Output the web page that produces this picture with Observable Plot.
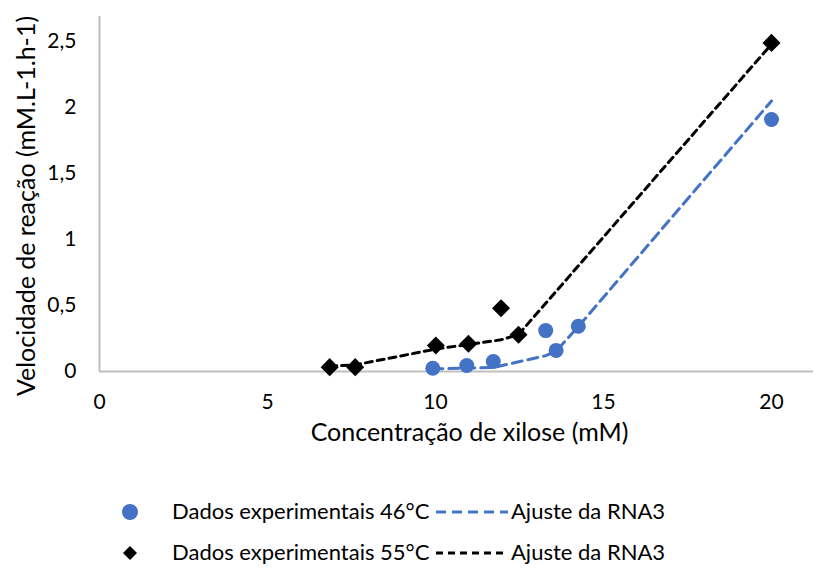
<!DOCTYPE html>
<html>
<head>
<meta charset="utf-8">
<script src="https://cdn.jsdelivr.net/npm/d3@7"></script>
<script src="https://cdn.jsdelivr.net/npm/@observablehq/plot@0.6"></script>
<style>
  body { margin: 0; background: #fff; font-family: Lato, "Open Sans", sans-serif; }
  #wrap { position: relative; width: 829px; height: 570px; }
  .leg { position: absolute; font-size: 22px; color: #000; white-space: nowrap; line-height: 1; }
</style>
</head>
<body>
<div id="wrap"></div>
<script>
// 46 °C experimental data
const x46 = [9.92, 10.93, 11.72, 13.28, 13.59, 14.25, 20.0];
const y46 = [0.025, 0.045, 0.076, 0.31, 0.16, 0.343, 1.91];
// 46 °C ANN fit
const fx46 = [9.92, 10.93, 11.72, 13.28, 13.59, 14.25, 20.0];
const fy46 = [0.02, 0.025, 0.03, 0.12, 0.155, 0.34, 2.05];
// 55 °C experimental data
const x55 = [6.85, 7.61, 10.01, 10.98, 11.95, 12.47, 20.0];
const y55 = [0.033, 0.033, 0.197, 0.21, 0.48, 0.278, 2.49];
// 55 °C ANN fit
const fx55 = [6.85, 7.61, 10.01, 10.98, 11.95, 12.47, 20.0];
const fy55 = [0.04, 0.05, 0.17, 0.205, 0.24, 0.28, 2.48];

const xTicks = [0, 5, 10, 15, 20];
const yTicks = [0, 0.5, 1, 1.5, 2, 2.5];
const xTitle = "Concentração de xilose (mM)";
const yTitle = "Velocidade de reação (mM.L-1.h-1)";

const blue = "#4472C4";
const toRows = (xs, ys) => xs.map((x, i) => ({x, y: ys[i]}));
const d46 = toRows(x46, y46), f46 = toRows(fx46, fy46);
const d55 = toRows(x55, y55), f55 = toRows(fx55, fy55);

const chart = Plot.plot({
  width: 829,
  height: 470,
  marginLeft: 99,
  marginRight: 16,
  marginTop: 16,
  marginBottom: 99,
  style: {fontFamily: "Lato, 'Open Sans', sans-serif", fontSize: "21px", color: "#000", background: "#fff"},
  x: {domain: [0, 21.25]},
  y: {domain: [0, 2.69]},
  marks: [
    Plot.ruleY([0], {stroke: "#bfbfbf", strokeWidth: 2}),
    Plot.ruleX([0], {stroke: "#bfbfbf", strokeWidth: 2}),
    Plot.axisX({ticks: xTicks, tickSize: 0, tickPadding: 23, fontSize: 21, label: null}),
    Plot.axisY({ticks: yTicks, tickSize: 0, tickPadding: 23, fontSize: 21, label: null,
      tickFormat: d => String(d).replace(".", ",")}),
    Plot.text([xTitle], {text: d => d, frameAnchor: "bottom", dx: 13, dy: 69, fontSize: 25, fill: "#000"}),
    Plot.text([yTitle], {text: d => d, frameAnchor: "left", textAnchor: "middle", dx: -73, dy: 12, rotate: -90, fontSize: 25, fill: "#000"}),
    Plot.line(f46, {x: "x", y: "y", stroke: blue, strokeWidth: 3, strokeDasharray: "10,6"}),
    Plot.line(f55, {x: "x", y: "y", stroke: "#000", strokeWidth: 3, strokeDasharray: "7,5"}),
    Plot.dot(d46, {x: "x", y: "y", r: 7.5, fill: blue, stroke: null}),
    Plot.dot(d55, {x: "x", y: "y", r: 7.2, symbol: "square", rotate: 45, fill: "#000", stroke: null})
  ]
});
const wrap = document.getElementById("wrap");
wrap.appendChild(chart);

// Legend (HTML below the SVG)
const legendRows = [
  {sym: "circle", color: blue, label: "Dados experimentais 46°C", fit: "Ajuste da RNA3", dash: "10,6", y: 512},
  {sym: "diamond", color: "#000", label: "Dados experimentais 55°C", fit: "Ajuste da RNA3", dash: "7,5", y: 553}
];
for (const r of legendRows) {
  const sw = document.createElementNS("http://www.w3.org/2000/svg", "svg");
  sw.setAttribute("width", 24); sw.setAttribute("height", 24);
  sw.style.position = "absolute"; sw.style.left = "118px"; sw.style.top = (r.y - 12) + "px";
  sw.innerHTML = r.sym === "circle"
    ? `<circle cx="12" cy="12" r="8" fill="${r.color}"/>`
    : `<path d="M12 5 L19 12 L12 19 L5 12 Z" fill="${r.color}"/>`;
  wrap.appendChild(sw);
  const t1 = document.createElement("div");
  t1.className = "leg"; t1.textContent = r.label;
  t1.style.left = "172px"; t1.style.top = (r.y - 12) + "px";
  wrap.appendChild(t1);
  const ln = document.createElementNS("http://www.w3.org/2000/svg", "svg");
  ln.setAttribute("width", 80); ln.setAttribute("height", 10);
  ln.style.position = "absolute"; ln.style.left = "434px"; ln.style.top = (r.y - 5) + "px";
  ln.innerHTML = `<line x1="2" x2="74" y1="5" y2="5" stroke="${r.color}" stroke-width="3" stroke-dasharray="${r.dash}"/>`;
  wrap.appendChild(ln);
  const t2 = document.createElement("div");
  t2.className = "leg"; t2.textContent = r.fit;
  t2.style.left = "511px"; t2.style.top = (r.y - 12) + "px";
  wrap.appendChild(t2);
}
</script>
</body>
</html>
